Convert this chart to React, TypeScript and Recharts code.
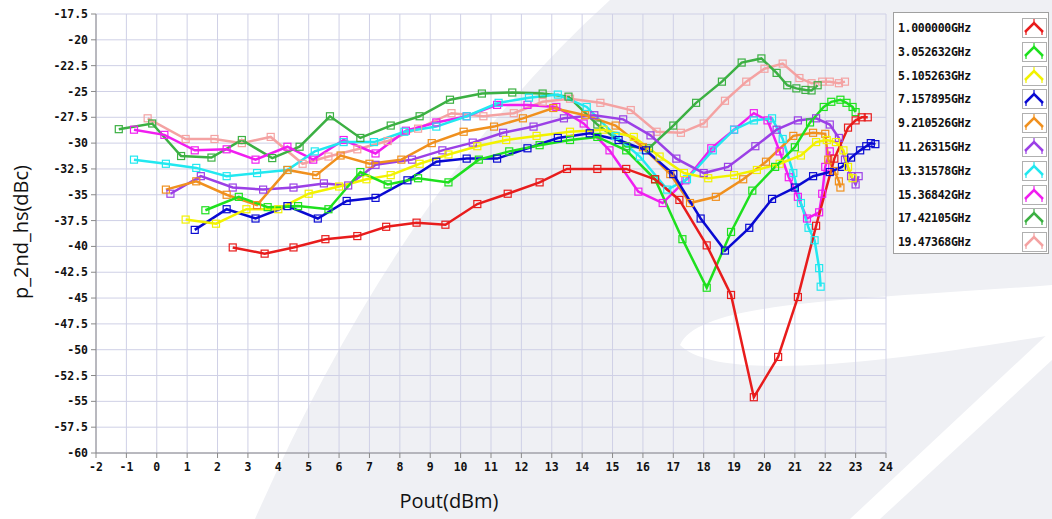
import { CartesianGrid, Line, LineChart, XAxis, YAxis } from "recharts"

type Pt = [number, number]

const freqs = [
  "1.000000GHz",
  "3.052632GHz",
  "5.105263GHz",
  "7.157895GHz",
  "9.210526GHz",
  "11.26315GHz",
  "13.31578GHz",
  "15.36842GHz",
  "17.42105GHz",
  "19.47368GHz",
]

const colors = ["#e81c1c", "#1ee01e", "#f2f200", "#0a0ad2", "#f0901e", "#9b40e6", "#22e8f0", "#f01ef0", "#3cb043", "#f4a2a2"]

// [Pout dBm, p_2nd_hs dBc]
const f1000: Pt[] = [
  [2.5, -40.1], [3.55, -40.7], [4.5, -40.1], [5.55, -39.3], [6.6, -39.0], [7.55, -38.1], [8.55, -37.7], [9.5, -37.9],
  [10.55, -35.9], [11.55, -34.9], [12.6, -33.8], [13.5, -32.5], [14.5, -32.5], [15.45, -32.5], [16.4, -33.5], [17.2, -35.5],
  [18.1, -39.9], [18.9, -44.7], [19.65, -54.6], [20.45, -50.7], [21.1, -44.9], [21.7, -38.0], [22.3, -31.5], [22.75, -28.5],
  [23.0, -27.8], [23.2, -27.5], [23.4, -27.5],
]
const f3052: Pt[] = [
  [1.6, -36.5], [2.7, -35.2], [3.65, -36.2], [4.65, -36.1], [5.65, -36.4], [6.7, -32.8], [7.6, -34.0], [8.6, -33.4],
  [9.6, -33.8], [10.6, -31.6], [11.6, -30.8], [12.6, -30.2], [13.6, -29.7], [14.5, -29.4], [15.45, -30.7], [16.4, -33.5],
  [17.3, -39.3], [18.1, -44.0], [18.9, -38.6], [19.6, -34.6], [20.35, -32.3], [21.0, -30.4], [21.5, -28.0], [21.95, -26.5],
  [22.2, -26.0], [22.5, -25.8], [22.7, -26.1], [22.9, -26.5], [23.0, -27.0],
]
const f5105: Pt[] = [
  [0.95, -37.4], [1.95, -37.8], [2.95, -36.4], [4.0, -36.4], [5.0, -34.9], [6.0, -34.2], [6.9, -33.5], [7.7, -33.1],
  [8.65, -32.0], [9.6, -31.1], [10.55, -30.3], [11.5, -29.7], [12.5, -29.3], [13.6, -28.9], [14.7, -28.7], [15.7, -29.4],
  [16.55, -31.3], [17.35, -32.9], [18.15, -33.4], [19.0, -33.1], [19.75, -32.6], [20.5, -32.0], [21.2, -31.2], [21.7, -29.9],
  [22.05, -29.7], [22.35, -29.9], [22.6, -30.7], [22.75, -32.3], [22.9, -33.4],
]
const f7157: Pt[] = [
  [1.25, -38.4], [2.3, -36.4], [3.25, -37.3], [4.3, -36.1], [5.3, -37.3], [6.25, -35.6], [7.2, -35.3], [8.25, -33.6],
  [9.2, -31.8], [10.2, -31.5], [11.2, -31.5], [12.2, -30.5], [13.2, -29.5], [14.25, -29.05], [15.2, -29.7], [16.1, -30.7],
  [17.0, -33.0], [17.9, -37.3], [18.7, -40.4], [19.5, -38.2], [20.25, -35.4], [21.0, -34.3], [21.6, -33.2], [22.15, -32.8],
  [22.55, -32.3], [22.85, -31.4], [23.15, -30.7], [23.35, -30.3], [23.5, -30.0], [23.65, -30.1],
]
const f9210: Pt[] = [
  [0.3, -34.5], [1.3, -33.7], [2.3, -35.0], [3.3, -36.0], [4.3, -32.6], [5.25, -33.1], [6.05, -31.2], [7.0, -32.0],
  [8.05, -31.6], [9.05, -30.0], [10.1, -28.9], [11.1, -28.4], [12.05, -27.6], [13.05, -26.6], [14.1, -27.3], [15.1, -28.3],
  [16.0, -30.4], [16.9, -33.0], [17.55, -35.8], [18.4, -35.2], [19.3, -33.5], [20.05, -31.8], [20.95, -29.3], [21.6, -29.0],
  [22.0, -29.1], [22.1, -31.6], [22.3, -32.7], [22.45, -33.7], [22.5, -34.3],
]
const f11263: Pt[] = [
  [0.45, -34.9], [1.45, -33.2], [2.5, -34.3], [3.5, -34.5], [4.5, -34.3], [5.5, -33.9], [6.3, -34.1], [7.2, -32.1],
  [8.4, -31.6], [9.4, -30.7], [10.4, -29.95], [11.4, -29.0], [12.4, -28.4], [13.4, -27.6], [14.4, -27.3], [15.35, -27.7],
  [16.25, -29.25], [17.1, -31.5], [18.0, -32.9], [18.8, -32.3], [19.7, -30.3], [20.4, -28.7], [21.1, -27.8], [21.7, -27.6],
  [22.15, -28.2], [22.45, -29.5], [22.65, -31.6], [22.85, -33.2], [23.0, -34.0], [23.1, -33.2],
]
const f13315: Pt[] = [
  [-0.75, -31.6], [0.3, -32.0], [1.3, -32.4], [2.3, -33.2], [3.3, -32.9], [4.3, -32.6], [5.2, -30.8], [6.15, -29.9],
  [7.15, -29.9], [8.15, -28.9], [9.2, -28.4], [10.2, -27.4], [11.25, -26.1], [12.25, -25.6], [13.2, -25.3], [14.15, -26.5],
  [15.1, -29.3], [15.9, -31.3], [16.8, -34.5], [17.45, -33.5], [18.3, -30.7], [19.0, -28.7], [19.65, -27.8], [20.25, -27.6],
  [20.6, -29.6], [20.95, -32.9], [21.2, -35.8], [21.45, -38.2], [21.65, -39.4], [21.8, -42.1], [21.85, -43.9],
]
const f15368: Pt[] = [
  [-0.75, -28.7], [0.25, -29.2], [1.25, -30.7], [2.3, -30.6], [3.25, -31.6], [4.3, -30.35], [5.15, -31.6], [6.15, -29.7],
  [7.2, -31.0], [8.2, -28.8], [9.2, -28.0], [10.2, -27.4], [11.2, -26.3], [12.2, -26.3], [13.15, -26.5], [14.05, -28.1],
  [14.9, -30.7], [15.85, -34.7], [16.65, -35.8], [17.4, -33.6], [18.25, -30.5], [19.0, -28.7], [19.65, -27.1], [20.1, -27.8],
  [20.5, -30.8], [20.8, -33.3], [21.1, -35.2], [21.4, -37.3], [21.8, -36.7], [21.9, -34.9], [22.0, -32.3], [22.15, -30.8],
]
const f17421: Pt[] = [
  [-1.25, -28.65], [-0.15, -28.1], [0.8, -31.25], [1.8, -31.4], [2.8, -29.7], [3.8, -31.45], [4.7, -30.35], [5.7, -27.4],
  [6.7, -29.5], [7.7, -28.3], [8.65, -27.4], [9.65, -25.8], [10.7, -25.2], [11.7, -25.1], [12.7, -25.2], [13.55, -25.5],
  [14.5, -28.2], [15.45, -30.3], [16.2, -30.5], [17.0, -28.3], [17.75, -26.1], [18.6, -24.05], [19.25, -22.2], [19.9, -21.8],
  [20.4, -23.2], [20.75, -24.4], [21.05, -24.7], [21.35, -24.85], [21.55, -24.9], [21.75, -24.4],
]
const f19473: Pt[] = [
  [-0.3, -27.6], [0.95, -29.6], [1.9, -29.6], [2.8, -30.0], [3.75, -29.4], [4.8, -32.0], [5.65, -31.3], [6.6, -30.6],
  [7.6, -29.8], [8.6, -28.6], [9.7, -27.1], [10.75, -27.4], [11.75, -27.1], [12.7, -26.0], [13.6, -25.7], [14.6, -26.1],
  [15.6, -26.8], [16.45, -28.9], [17.25, -29.0], [18.0, -28.1], [18.7, -25.9], [19.4, -24.05], [20.0, -22.8], [20.6, -22.3],
  [21.15, -23.7], [21.55, -24.2], [21.9, -24.05], [22.15, -24.05], [22.45, -24.2], [22.65, -24.05],
]

const seriesData = [f1000, f3052, f5105, f7157, f9210, f11263, f13315, f15368, f17421, f19473]

const xTicks = [-2, -1, 0, 1, 2, 3, 4, 5, 6, 7, 8, 9, 10, 11, 12, 13, 14, 15, 16, 17, 18, 19, 20, 21, 22, 23, 24]
const yTicks = [-60, -57.5, -55, -52.5, -50, -47.5, -45, -42.5, -40, -37.5, -35, -32.5, -30, -27.5, -25, -22.5, -20, -17.5]

const tickFont = { fontFamily: "DejaVu Sans Mono", fontSize: 11.5, fontWeight: 700, fill: "#111" }

function SquareDot(props: any) {
  const { cx, cy, stroke, index } = props
  if (cx == null || cy == null) return <g key={index} />
  return <rect key={index} x={cx - 3.5} y={cy - 3.5} width={7} height={7} fill="none" stroke={stroke} strokeWidth={1.2} />
}

function Watermark() {
  return (
    <svg width={1052} height={519} style={{ position: "absolute", left: 0, top: 0 }}>
      <rect width={1052} height={519} fill="#fff" />
      <path d="M 610 0 Q 400 190 255 519 L 1052 519 L 1052 0 Z" fill="#eff0f4" />
      <path d="M 680 345 C 700 300 860 300 1052 285 L 1052 335 C 900 360 720 385 680 345 Z" fill="#fff" />
      <path d="M 850 519 L 1052 330 L 1052 360 L 880 519 Z" fill="#fff" />
    </svg>
  )
}

function LegendBox() {
  return (
    <div
      style={{
        position: "absolute",
        left: 893,
        top: 12,
        width: 156,
        height: 242,
        background: "#fff",
        border: "1px solid #a0a0a0",
        boxSizing: "border-box",
      }}
    >
      {freqs.map((f, i) => (
        <div key={f} style={{ position: "absolute", left: 0, top: 5 + i * 23.8, width: 156, height: 20 }}>
          <span
            style={{
              position: "absolute",
              left: 4,
              top: 3,
              fontFamily: "DejaVu Sans Mono",
              fontSize: 11.5,
              fontWeight: "bold",
              color: "#111",
              letterSpacing: -0.3,
            }}
          >
            {f}
          </span>
          <svg width={25} height={20} style={{ position: "absolute", left: 128, top: 0 }}>
            <rect x={0.5} y={0.5} width={24} height={19} fill="#fff" stroke="#b0b0b0" />
            <polyline points="3,14 12,5 21,14" fill="none" stroke={colors[i]} strokeWidth={2.5} />
            <line x1={4} y1={12} x2={4} y2={17} stroke={colors[i]} strokeWidth={1.2} />
            <line x1={20} y1={12} x2={20} y2={17} stroke={colors[i]} strokeWidth={1.2} />
            <line x1={12} y1={4} x2={12} y2={1} stroke={colors[i]} strokeWidth={1.2} />
          </svg>
        </div>
      ))}
    </div>
  )
}

export default function App() {
  return (
    <div style={{ position: "absolute", left: 0, top: 0, width: 1052, height: 519, overflow: "hidden" }}>
      <Watermark />
      <div style={{ position: "absolute", left: 0, top: 0 }}>
        <LineChart width={1052} height={519} margin={{ top: 14, right: 166, bottom: 36, left: 0 }}>
          <CartesianGrid stroke="#cfd0e6" strokeWidth={1} horizontal vertical />
          <XAxis
            type="number"
            dataKey="x"
            domain={[-2, 24]}
            ticks={xTicks}
            allowDataOverflow
            height={30}
            tick={tickFont}
            tickSize={5}
            tickMargin={5}
            stroke="#8a8a8a"
            interval={0}
          />
          <YAxis
            type="number"
            dataKey="y"
            domain={[-60, -17.5]}
            ticks={yTicks}
            allowDataOverflow
            width={96}
            tick={tickFont}
            tickSize={5}
            tickMargin={3}
            stroke="#8a8a8a"
            interval={0}
          />
          {seriesData
            .map((pts, i) => (
              <Line
                key={freqs[i]}
                name={freqs[i]}
                data={pts.map(([x, y]) => ({ x, y }))}
                dataKey="y"
                type="linear"
                stroke={colors[i]}
                strokeWidth={2.5}
                dot={<SquareDot />}
                activeDot={false}
                isAnimationActive={false}
              />
            ))
            .reverse()}
        </LineChart>
      </div>
      <LegendBox />
      <div
        style={{
          position: "absolute",
          left: 20,
          top: 232,
          transform: "translate(-50%, -50%) rotate(-90deg)",
          fontFamily: "Open Sans",
          fontSize: 20,
          color: "#111",
          whiteSpace: "nowrap",
        }}
      >
        p_2nd_hs(dBc)
      </div>
      <div
        style={{
          position: "absolute",
          left: 449,
          top: 500,
          transform: "translate(-50%, -50%)",
          fontFamily: "Open Sans",
          fontSize: 20,
          color: "#111",
          whiteSpace: "nowrap",
        }}
      >
        Pout(dBm)
      </div>
    </div>
  )
}
